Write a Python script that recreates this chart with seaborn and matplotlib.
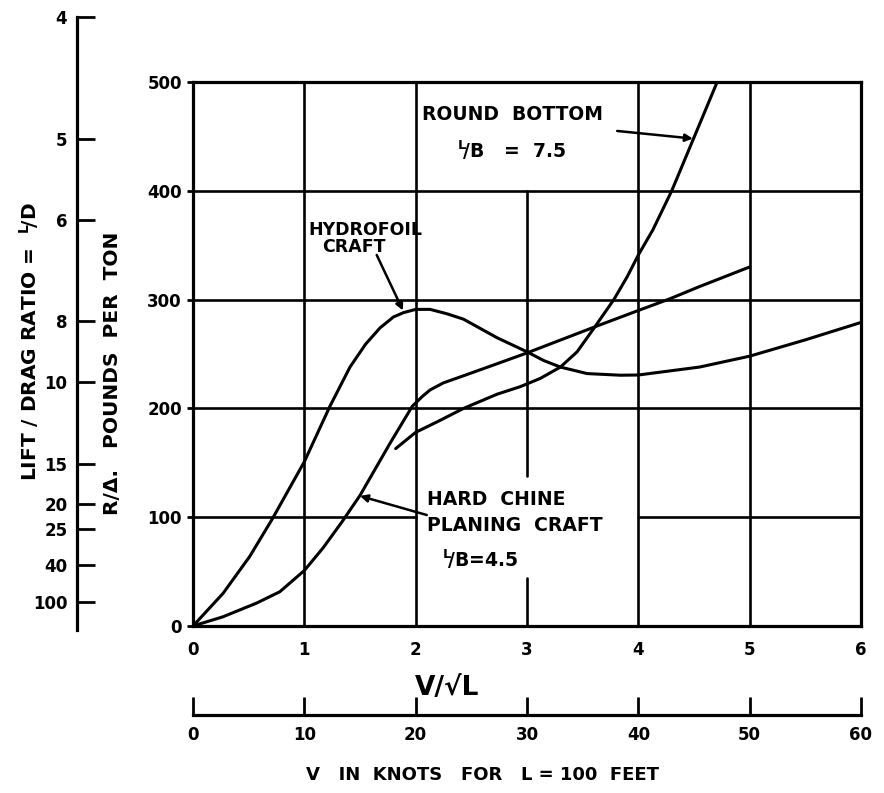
import numpy as np
import pandas as pd
import seaborn as sns
import matplotlib
matplotlib.use("Agg")
import matplotlib.pyplot as plt

# ---------------- data ----------------
hydro_x = [0, 0.27, 0.51, 0.71, 1.0, 1.23, 1.41, 1.55, 1.68, 1.8, 1.89, 2.0, 2.13, 2.28, 2.43,
           2.73, 3.0, 3.15, 3.3, 3.54, 3.84, 4.0, 4.55, 5.0, 5.5, 6.0]
hydro_y = [0, 30, 64, 98, 151, 202, 238, 259, 274, 284, 288, 291, 291, 287, 282,
           265, 252, 244, 238, 232, 230.5, 230.7, 238, 248, 263, 279]

chine_x = [0, 0.27, 0.57, 0.78, 1.0, 1.17, 1.34, 1.5, 1.77, 1.97, 2.06, 2.13, 2.25, 2.43,
           2.73, 3.0, 3.61, 4.0, 4.28, 4.55, 5.0]
chine_y = [0, 8.5, 21, 31.5, 51, 72, 96, 120, 168, 202, 211, 217, 223.5, 230,
           241, 251, 275, 290, 300.6, 312, 330]

round_x = [1.82, 2.0, 2.2, 2.43, 2.73, 2.94, 3.12, 3.3, 3.45, 3.61, 3.78, 3.9, 4.0, 4.13,
           4.3, 4.5, 4.7]
round_y = [163, 178, 188, 200, 213, 220, 227.6, 238, 252, 275, 300, 321, 341, 364,
           400, 449, 498]

x_ticks = [0, 1, 2, 3, 4, 5, 6]
y_ticks = [0, 100, 200, 300, 400, 500]
ld_ticks = [4, 5, 6, 8, 10, 15, 20, 25, 40, 100]
knot_ticks = [0, 10, 20, 30, 40, 50, 60]
LB_TON = 2240  # pounds per long ton: R/Δ = 2240 / (L/D)

# ---------------- style ----------------
sns.set_theme(style="white")
plt.rcParams['font.family'] = ['DejaVu Sans']
plt.rcParams['font.weight'] = 'bold'
plt.rcParams['mathtext.fontset'] = 'dejavusans'
for key in ['text.color', 'axes.labelcolor', 'xtick.color', 'ytick.color', 'axes.edgecolor']:
    plt.rcParams[key] = 'black'

W, H = 884, 793
fig = plt.figure(figsize=(W / 100, H / 100), dpi=100)
fig.patch.set_facecolor('white')

# main axes (pixels: left 193, right 861, top 82, bottom 626)
L, R, T, B = 193, 861, 82, 626
ax = fig.add_axes([L / W, 1 - B / H, (R - L) / W, (B - T) / H])
ax.set_facecolor('white')

df = pd.concat([
    pd.DataFrame({'x': hydro_x, 'y': hydro_y, 'curve': 'Hydrofoil craft'}),
    pd.DataFrame({'x': chine_x, 'y': chine_y, 'curve': 'Hard chine planing craft'}),
    pd.DataFrame({'x': round_x, 'y': round_y, 'curve': 'Round bottom'}),
])

# grid lines (some segments hidden behind labels, as in the original)
glw = 1.9
for gx in [1, 2, 4, 5]:
    ax.axvline(gx, color='black', lw=glw, zorder=1)
ax.axvline(3, 0, 44 / 500, color='black', lw=glw, zorder=1)
ax.axvline(3, 138 / 500, 400 / 500, color='black', lw=glw, zorder=1)
for gy in [200, 300, 400]:
    ax.axhline(gy, color='black', lw=glw, zorder=1)
ax.axhline(100, 0, 2 / 6, color='black', lw=glw, zorder=1)
ax.axhline(100, 4 / 6, 1, color='black', lw=glw, zorder=1)

sns.lineplot(data=df, x='x', y='y', units='curve', estimator=None, sort=False,
             color='black', lw=2.2, ax=ax, zorder=3, legend=False)

ax.set_xlim(0, 6)
ax.set_ylim(0, 500)
ax.set_xticks(x_ticks)
ax.set_yticks(y_ticks)
ax.set_xticklabels([str(v) for v in x_ticks], fontsize=12, fontweight='bold')
ax.set_yticklabels([str(v) for v in y_ticks], fontsize=12, fontweight='bold')
ax.tick_params(axis='x', bottom=True, length=0, pad=11)
ax.tick_params(axis='y', left=True, length=4, width=2, pad=4, direction='out')
ax.set_xlabel('')
ax.set_ylabel('')
for s in ax.spines.values():
    s.set_visible(True)
    s.set_color('black')
    s.set_linewidth(2.3)

# annotations
txt_kw = dict(fontsize=13.5, fontweight='bold', color='black', zorder=5)
arrow_kw = dict(arrowstyle='-|>', color='black', lw=1.8, mutation_scale=11, shrinkA=0, shrinkB=0)

ax.text(2.06, 470, 'ROUND  BOTTOM', ha='left', va='center', **txt_kw)
ax.text(2.37, 437, r'$^{\mathbf{L}}\!/\mathbf{B}$   =  7.5', ha='left', va='center', **txt_kw)
ax.annotate('', xy=(4.49, 448), xytext=(3.81, 455), arrowprops=arrow_kw)

ax.text(1.545, 364, 'HYDROFOIL', ha='center', va='center', fontsize=12.5, fontweight='bold')
ax.text(1.446, 348, 'CRAFT', ha='center', va='center', fontsize=12.5, fontweight='bold')
ax.annotate('', xy=(1.886, 290), xytext=(1.65, 341), arrowprops=arrow_kw)

ax.text(2.10, 116, 'HARD  CHINE', ha='left', va='center', **txt_kw)
ax.text(2.10, 92, 'PLANING  CRAFT', ha='left', va='center', **txt_kw)
ax.text(2.24, 61, r'$^{\mathbf{L}}\!/\mathbf{B}$=4.5', ha='left', va='center', **txt_kw)
ax.annotate('', xy=(1.5, 119.5), xytext=(2.1, 102), arrowprops=arrow_kw)

# left label for main axis
fig.text(113 / W, 1 - 373 / H, 'R/Δ.   POUNDS  PER  TON', rotation=90,
         ha='center', va='center', fontsize=14.5, fontweight='bold')

# L/D scale (same vertical scale as R/Δ: R/Δ = 2240 / (L/D))
px_per_unit = (B - T) / 500
top_val, bot_val = 560, -4
top_px = B - top_val * px_per_unit
bot_px = B - bot_val * px_per_unit
ax_ld = fig.add_axes([77 / W, 1 - bot_px / H, 0.001, (bot_px - top_px) / H])
ax_ld.set_facecolor('none')
ax_ld.set_ylim(bot_val, top_val)
ax_ld.set_yticks([LB_TON / v for v in ld_ticks])
ax_ld.set_yticklabels([str(v) for v in ld_ticks], fontsize=12, fontweight='bold')
ax_ld.set_xticks([])
ax_ld.tick_params(axis='y', left=True, direction='in', length=13, width=2, pad=7)
for k, s in ax_ld.spines.items():
    s.set_visible(k == 'left')
ax_ld.spines['left'].set_linewidth(2.3)
ax_ld.spines['left'].set_color('black')

fig.text(29 / W, 1 - 342 / H, r'LIFT / DRAG RATIO =  $^{\mathbf{L}}\!/\mathbf{D}$', rotation=90,
         ha='center', va='center', fontsize=14.5, fontweight='bold')

# V/sqrt(L) label
fig.text(447 / W, 1 - 688 / H, 'V/√L', ha='center', va='center', fontsize=19, fontweight='bold')

# knots scale
ax_k = fig.add_axes([L / W, 1 - 715 / H, (R - L) / W, 0.001])
ax_k.set_facecolor('none')
ax_k.set_xlim(0, 60)
ax_k.set_xticks(knot_ticks)
ax_k.set_xticklabels([str(v) for v in knot_ticks], fontsize=12, fontweight='bold')
ax_k.set_yticks([])
ax_k.tick_params(axis='x', bottom=True, direction='in', length=13, width=2, pad=8)
for k, s in ax_k.spines.items():
    s.set_visible(k == 'bottom')
ax_k.spines['bottom'].set_linewidth(2.3)
ax_k.spines['bottom'].set_color('black')

fig.text(483 / W, 1 - 775 / H, 'V   IN  KNOTS   FOR   L = 100  FEET', ha='center', va='center',
         fontsize=13, fontweight='bold')

fig.savefig('out.png', dpi=100, facecolor='white')
